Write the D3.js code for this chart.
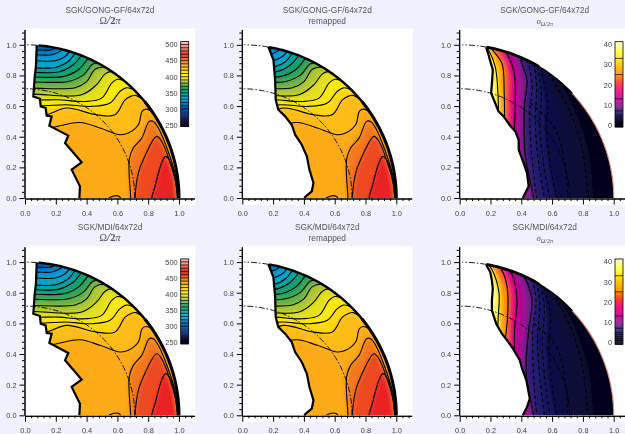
<!DOCTYPE html>
<html><head><meta charset="utf-8">
<script src="https://cdn.jsdelivr.net/npm/d3@7"></script>
<style>
html,body{margin:0;padding:0;background:#f0f0ff;overflow:hidden}
svg{display:block;filter:blur(0.45px)}
text{font-family:"Liberation Sans",Arial,sans-serif}
</style></head><body><svg id="c" width="625" height="434"></svg>
<script>
// ---------- data ----------
const titlesTop=["SGK/GONG-GF/64x72d","SGK/GONG-GF/64x72d","SGK/GONG-GF/64x72d","SGK/MDI/64x72d","SGK/MDI/64x72d","SGK/MDI/64x72d"];
const subtitles=["omega","remapped","sigma","omega","remapped","sigma"];
const axisTicks=[0,0.2,0.4,0.6,0.8,1.0];
const minorTicks=[0.04,0.08,0.12,0.16,0.24,0.28,0.32,0.36,0.44,0.48,0.52,0.56,0.64,0.68,0.72,0.76,0.84,0.88,0.92,0.96,1.04,1.08];
const tachoRadius=0.713, surfaceRadius=1.0;

const omegaTicks=[250,300,350,400,450,500];
const omegaStops=[250,262,280,290,300,310,320,330,340,350,360,370,380,390,400,410,420,430,437,450,460,468,480,490,500,510];
const omegaColors=["#000020","#101040","#203080","#004088","#0058a8","#0064b4","#0090d0","#00a8e0","#00a4b8","#00a080","#10a060","#40a850","#90bc38","#d0d428","#f8ec10","#ffe800","#ffc810","#fdb015","#fba818","#f26a1e","#ee4020","#ea2426","#ee5040","#f88070","#ffa090","#ffcdb8"];
const omegaLines=[300,310,320,330,340,350,360,370,380,390,400,410,420,430,440,450,460,470,480,490,500];
const sigmaTicks=[0,10,20,30,40];
const sigmaStops=[0,1.5,3,4.5,7,9,12,17,21,25,30,36,42];
const sigmaColors=["#000018","#08082e","#14145a","#241c70","#3a2080","#802090","#c00098","#f00080","#ff3030","#ff9000","#ffc800","#ffff40","#fffff0"];
const sigmaLines=[1,2,3,4,5,7,13,25,33];

const omegaLevels=[310,320,330,340,350,360,370,380,390,400,410,420,430];
const omegaContours=[
 [[-.1,.967],[.076,.967],[.162,.967],[.216,.989],[.25,1.02]],
 [[-.1,.935],[.06,.935],[.173,.935],[.227,.957],[.27,.99]],
 [[-.1,.896],[.06,.896],[.195,.896],[.26,.924],[.3,.97]],
 [[-.1,.848],[.06,.848],[.206,.854],[.281,.891],[.33,.955]],
 [[-.1,.82],[.06,.82],[.216,.822],[.314,.87],[.372,.94]],
 [[-.1,.79],[.06,.79],[.249,.793],[.346,.837],[.415,.92]],
 [[-.1,.757],[.05,.757],[.281,.761],[.379,.804],[.44,.875],[.49,.885]],
 [[-.1,.717],[.05,.717],[.325,.72],[.4,.76],[.455,.84],[.52,.855],[.56,.84]],
 [[-.1,.678],[.05,.678],[.368,.674],[.465,.74],[.52,.81],[.56,.825],[.61,.8]],
 [[-.1,.64],[.1,.64],[.216,.641],[.39,.63],[.498,.652],[.563,.75],[.60,.775],[.67,.755]],
 [[-.1,.602],[.125,.602],[.26,.609],[.433,.598],[.552,.62],[.617,.696],[.66,.72],[.73,.695]],
 [[-.1,.5],[.141,.543],[.27,.587],[.465,.543],[.584,.543],[.65,.641],[.69,.665],[.72,.67],[.79,.625]],
 [[-.1,.4],[.206,.467],[.357,.493],[.487,.457],[.617,.413],[.671,.424],[.736,.478],[.76,.565],[.785,.58],[.85,.55]]
];
const coreLevels=[447,458,468];
const coreContours=[
 [[.686,-.05],[.686,0],[.677,.25],[.703,.326],[.758,.391],[.807,.5],[.833,.5],[.866,.457],[.974,.163],[.996,0],[.996,-.05]],
 [[.714,-.05],[.714,0],[.736,.163],[.768,.25],[.855,.402],[.887,.37],[.98,.098],[.99,0],[.99,-.05]],
 [[.823,-.05],[.823,0],[.844,.076],[.887,.228],[.913,.272],[.952,.217],[.99,0],[.99,-.05]]
];
const coreIsland=[[.53,-.01],[.57,.012],[.61,.012],[.625,-.01]];

const innerEdgeFull=[[.076,.997],[.071,.859],[.063,.793],[.054,.663],[.097,.648],[.102,.598],[.134,.587],[.141,.537],[.173,.533],[.158,.472],[.281,.407],[.26,.359],[.368,.233],[.303,.185],[.357,.076],[.353,0]];
const innerEdgeRemap=[[.169,.986],[.202,.902],[.213,.772],[.217,.641],[.234,.576],[.278,.533],[.321,.478],[.343,.413],[.386,.348],[.419,.272],[.436,.185],[.462,.098],[.451,.043],[.408,.007],[.403,0]];
const innerEdgeSigmaGong=[[.172,.983],[.187,.935],[.202,.88],[.215,.837],[.211,.772],[.204,.685],[.23,.62],[.252,.565],[.285,.533],[.328,.472],[.361,.435],[.383,.38],[.383,.315],[.415,.228],[.437,.163],[.448,.076],[.415,.011],[.41,0]];
const innerEdgeSigmaMdi=[[.172,.983],[.198,.935],[.209,.88],[.215,.826],[.209,.75],[.209,.685],[.237,.598],[.274,.533],[.311,.485],[.346,.435],[.39,.359],[.405,.304],[.433,.228],[.455,.109],[.437,.054],[.415,.011],[.41,0]];

const sigmaFillLevels=[1,1.5,2,3,4,5,7,10,13,17,21,25,29,33,37];
const sigmaFillsGong=[
 [[.66,.76],[.76,.55],[.84,.3],[.87,0]],
 [[.6,.8],[.72,.55],[.8,.3],[.83,0]],
 [[.56,.82],[.64,.58],[.69,.3],[.71,0]],
 [[.52,.85],[.55,.65],[.55,.45],[.58,.2],[.62,0]],
 [[.48,.88],[.50,.72],[.49,.5],[.51,.25],[.55,0]],
 [[.44,.9],[.47,.75],[.455,.55],[.47,.25],[.5,0]],
 [[.39,.93],[.404,.876],[.437,.772],[.42,.598],[.42,.38],[.426,.272],[.459,.109],[.48,0]],
 [[.36,.94],[.395,.8],[.395,.6],[.39,.4],[.40,.25],[.43,.1],[.45,0]],
 [[.29,.96],[.311,.935],[.354,.815],[.361,.641],[.354,.413],[.36,.3]],
 [[.27,.97],[.325,.84],[.335,.65],[.335,.44],[.35,.3]],
 [[.24,.98],[.28,.91],[.315,.8],[.31,.66],[.315,.457],[.34,.3]],
 [[.2,.99],[.209,.972],[.274,.88],[.289,.685],[.291,.5],[.295,.3]],
 [[.19,.99],[.21,.93],[.25,.86],[.265,.7],[.27,.5]],
 [[.17,.99],[.187,.967],[.23,.859],[.246,.728],[.252,.554],[.255,.4]],
 [[.16,.99],[.19,.93],[.22,.8],[.225,.7],[.235,.55]]
];
const sigmaFillsMdi=[
 [[.66,.76],[.76,.55],[.84,.3],[.87,0]],
 [[.6,.8],[.72,.55],[.8,.3],[.83,0]],
 [[.56,.82],[.64,.58],[.69,.3],[.71,0]],
 [[.53,.85],[.57,.65],[.56,.45],[.58,.2],[.62,0]],
 [[.5,.87],[.52,.72],[.505,.5],[.52,.25],[.55,0]],
 [[.47,.89],[.495,.75],[.475,.55],[.48,.25],[.5,0]],
 [[.41,.92],[.437,.87],[.47,.75],[.448,.554],[.433,.38],[.433,.25],[.459,.109],[.48,0]],
 [[.38,.93],[.42,.8],[.42,.6],[.405,.4],[.41,.25],[.43,.1],[.45,0]],
 [[.3,.96],[.34,.92],[.372,.75],[.357,.576],[.354,.413],[.36,.3]],
 [[.28,.97],[.335,.84],[.345,.65],[.335,.44],[.35,.3]],
 [[.25,.98],[.295,.9],[.325,.78],[.32,.62],[.32,.44],[.34,.3]],
 [[.21,.99],[.25,.93],[.295,.82],[.3,.62],[.297,.5],[.3,.3]],
 [[.2,.99],[.225,.93],[.265,.8],[.27,.62],[.275,.5]],
 [[.18,.99],[.21,.95],[.255,.8],[.25,.64],[.252,.54],[.26,.4]],
 [[.17,.99],[.2,.93],[.24,.8],[.232,.66],[.24,.55]]
];
const sigmaSolidGong=[
 [[.39,.93],[.404,.876],[.437,.772],[.42,.598],[.42,.38],[.426,.272],[.459,.109],[.48,0]],
 [[.29,.96],[.311,.935],[.354,.815],[.361,.641],[.354,.413]],
 [[.2,.99],[.209,.972],[.274,.88],[.289,.685],[.291,.5]],
 [[.17,.99],[.187,.967],[.23,.859],[.246,.728],[.252,.554]]
];
const sigmaSolidMdi=[
 [[.41,.92],[.437,.87],[.47,.75],[.448,.554],[.433,.38],[.433,.25],[.459,.109],[.48,0]],
 [[.3,.96],[.34,.92],[.372,.75],[.357,.576],[.354,.413]],
 [[.25,.98],[.285,.924],[.311,.815],[.311,.641],[.296,.5]],
 [[.18,.99],[.21,.95],[.255,.8],[.25,.64],[.246,.543]]
];
const sigmaDashedGong=[
 [[.44,.9],[.47,.75],[.455,.55],[.47,.25],[.5,0]],
 [[.48,.88],[.50,.72],[.49,.5],[.51,.25],[.55,0]],
 [[.505,.86],[.53,.7],[.52,.48],[.545,.22],[.585,0]],
 [[.52,.85],[.57,.65],[.565,.45],[.59,.2],[.63,0]],
 [[.46,.62],[.611,.467],[.676,.272],[.70,0]],
 [[.6,.78],[.72,.55],[.8,.3],[.83,0]]
];
const sigmaDashedMdi=[
 [[.47,.89],[.495,.75],[.475,.55],[.48,.25],[.5,0]],
 [[.5,.87],[.52,.72],[.505,.5],[.52,.25],[.55,0]],
 [[.525,.85],[.55,.7],[.535,.48],[.555,.22],[.585,0]],
 [[.55,.83],[.59,.65],[.58,.45],[.6,.2],[.63,0]],
 [[.48,.6],[.62,.46],[.68,.27],[.70,0]],
 [[.62,.77],[.73,.55],[.8,.3],[.83,0]]
];

// ---------- layout ----------
const panelX=[25,242.3,459.7];
const rowY=[198,415.3];
const unitX=154, unitY=153.2;
const svg=d3.select("#c");
const defs=svg.append("defs");
const blur=defs.append("filter").attr("id","soft").attr("filterUnits","userSpaceOnUse").attr("x",0).attr("y",0).attr("width",625).attr("height",434);
blur.append("feGaussianBlur").attr("stdDeviation",2.4);

const omegaColor=d3.scaleLinear().domain(omegaStops).range(omegaColors).clamp(true);
const sigmaColor=d3.scaleLinear().domain(sigmaStops).range(sigmaColors).clamp(true);

function drawPanel(idx){
  const col=idx%3,row=Math.floor(idx/3);
  const x=d3.scaleLinear().domain([0,1.1]).range([panelX[col],panelX[col]+unitX*1.1]);
  const y=d3.scaleLinear().domain([0,1.1]).range([rowY[row],rowY[row]-unitY*1.1]);
  const g=svg.append("g");
  const right=col===2?625:x(1.1)+1;
  g.append("rect").attr("x",x(0)).attr("y",y(1.1)-1).attr("width",right-x(0)).attr("height",y(0)-y(1.1)+8).attr("fill","#fff");

  const line=d3.line().x(d=>x(d[0])).y(d=>y(d[1])).curve(d3.curveCatmullRom.alpha(.5));
  const straight=d3.line().x(d=>x(d[0])).y(d=>y(d[1]));
  const inner=col===0?innerEdgeFull:col===1?innerEdgeRemap:(row===0?innerEdgeSigmaGong:innerEdgeSigmaMdi);
  const topLat=Math.atan2(inner[0][1],inner[0][0])*180/Math.PI;
  const polar=(r,l)=>[r*Math.cos(l*Math.PI/180),r*Math.sin(l*Math.PI/180)];
  const arcPts=d3.range(0,topLat,1).map(l=>polar(surfaceRadius,l));
  const clipId="clip"+idx;
  defs.append("clipPath").attr("id",clipId).append("path").attr("d",straight([...arcPts,...inner])+"Z");

  const clipped=g.append("g").attr("clip-path",`url(#${clipId})`);
  const soft=clipped.append("g").attr("filter","url(#soft)");
  if(col<2){
    soft.append("rect").attr("x",x(-.2)).attr("y",y(1.3)).attr("width",x(1.4)-x(-.2)).attr("height",y(-.2)-y(1.3)).attr("fill",omegaColor(303));
    omegaContours.forEach((c,i)=>{
      const a=c[0],b=c[c.length-1];
      const d=line(c)+"L"+[[1.4,b[1]],[1.4,-.3],[a[0],-.3]].map(p=>x(p[0])+","+y(p[1])).join("L")+"Z";
      soft.append("path").attr("d",d).attr("fill",omegaColor(omegaLevels[i]+5));
    });
    coreContours.forEach((c,i)=>{
      soft.append("path").attr("d",line(c)+"L"+x(1.2)+","+y(-.05)+"L"+x(1.2)+","+y(-.3)+"L"+x(c[0][0])+","+y(-.3)+"Z").attr("fill",omegaColor(coreLevels[i]));
    });
    [...omegaContours,...coreContours,coreIsland].forEach(c=>{
      clipped.append("path").attr("d",line(c)).attr("fill","none").attr("stroke","#000").attr("stroke-width",1.1);
    });
  } else {
    const fills=row===0?sigmaFillsGong:sigmaFillsMdi;
    soft.append("rect").attr("x",x(-.2)).attr("y",y(1.3)).attr("width",x(1.4)-x(-.2)).attr("height",y(-.2)-y(1.3)).attr("fill",sigmaColor(.3));
    fills.forEach((c,i)=>{
      const a=c[0],b=c[c.length-1];
      const d=line(c)+"L"+[[b[0],-.3],[-.3,-.3],[-.3,1.3],[a[0],1.3]].map(p=>x(p[0])+","+y(p[1])).join("L")+"Z";
      soft.append("path").attr("d",d).attr("fill",sigmaColor(sigmaFillLevels[i]+(sigmaFillLevels[i]>=7?1.5:.3)));
    });
    (row===0?sigmaSolidGong:sigmaSolidMdi).forEach(c=>clipped.append("path").attr("d",line(c)).attr("fill","none").attr("stroke","#000").attr("stroke-width",1.1));
    (row===0?sigmaDashedGong:sigmaDashedMdi).forEach(c=>clipped.append("path").attr("d",line(c)).attr("fill","none").attr("stroke","#000").attr("stroke-width",1.1).attr("stroke-dasharray","3.5 3"));
  }
  // domain outline
  if(col<2){
    g.append("path").attr("d",straight(arcPts.filter(p=>p[1]<.64))).attr("fill","none").attr("stroke","#000").attr("stroke-width",3);
    g.append("path").attr("d",straight(arcPts.filter(p=>p[1]>=.58))).attr("fill","none").attr("stroke","#000").attr("stroke-width",2.4);
    g.append("path").attr("d",straight(inner)).attr("fill","none").attr("stroke","#000").attr("stroke-width",2.2);
  } else {
    const lat=p=>Math.atan2(p[1],p[0])*180/Math.PI;
    g.append("path").attr("d",straight(arcPts.filter(p=>lat(p)<44))).attr("fill","none").attr("stroke","#e88a78").attr("stroke-width",1.1);
    g.append("path").attr("d",straight(arcPts.filter(p=>lat(p)>=43&&lat(p)<60))).attr("fill","none").attr("stroke","#000").attr("stroke-width",1.6);
    g.append("path").attr("d",straight(arcPts.filter(p=>lat(p)>=59))).attr("fill","none").attr("stroke","#000").attr("stroke-width",2.8);
    g.append("path").attr("d",straight(inner)).attr("fill","none").attr("stroke","#000").attr("stroke-width",2.2);
  }
  // tachocline & surface reference arcs
  const dash="6 2 1.5 2";
  const arc=(r,lo,hi)=>straight(d3.range(lo,hi+.01,1).map(l=>polar(r,l)));
  g.append("path").attr("d",arc(tachoRadius,0,90)).attr("fill","none").attr("stroke","#000").attr("stroke-width",.9).attr("stroke-dasharray",dash);
  g.append("path").attr("d",arc(surfaceRadius,topLat,90)).attr("fill","none").attr("stroke","#000").attr("stroke-width",.9).attr("stroke-dasharray",dash);

  // axes
  const style=a=>{a.selectAll("text").attr("font-size",7.4).attr("fill","#444");a.selectAll("path,line").attr("stroke","#000");};
  const xa=g.append("g").attr("transform",`translate(0,${y(0)+.5})`).call(d3.axisBottom(x).tickValues(axisTicks).tickSize(6).tickSizeOuter(0).tickFormat(d3.format(".1f")).tickPadding(6));
  style(xa);
  const xm=g.append("g").attr("transform",`translate(0,${y(0)+.5})`).call(d3.axisBottom(x).tickValues(minorTicks).tickSize(2.5).tickSizeOuter(0).tickFormat(""));
  style(xm);
  const ya=g.append("g").attr("transform",`translate(${x(0)-.5},0)`).call(d3.axisLeft(y).tickValues(axisTicks).tickSize(5).tickSizeOuter(0).tickFormat(d3.format(".1f")).tickPadding(3));
  style(ya);
  const ym=g.append("g").attr("transform",`translate(${x(0)-.5},0)`).call(d3.axisLeft(y).tickValues(minorTicks).tickSize(2.5).tickSizeOuter(0).tickFormat(""));
  style(ym);

  // titles
  const cx=x(0)+85;
  g.append("text").attr("x",cx).attr("y",y(0)-185).attr("text-anchor","middle").attr("font-size",8.3).attr("fill","#555").text(titlesTop[idx]);
  const sub=g.append("text").attr("x",cx).attr("y",y(0)-174).attr("text-anchor","middle").attr("fill","#555");
  if(subtitles[idx]==="remapped"){sub.attr("font-size",8.3).text("remapped");}
  else if(subtitles[idx]==="omega"){
    sub.append("tspan").attr("font-family","Liberation Serif").attr("font-size",10).text("Ω");
    sub.append("tspan").attr("font-family","Liberation Serif").attr("font-size",11.5).attr("font-weight","bold").attr("font-style","italic").text("/");
    sub.append("tspan").attr("font-family","Liberation Serif").attr("font-size",10.5).attr("font-weight","bold").text("2");
    sub.append("tspan").attr("font-family","Liberation Serif").attr("font-size",10).attr("font-style","italic").text("π");
  } else {
    sub.append("tspan").attr("font-family","Liberation Serif").attr("font-size",9).attr("font-style","italic").text("σ");
    sub.append("tspan").attr("font-family","Liberation Serif").attr("font-size",6).attr("dy",2).text("Ω/2π");
  }

  // colour bars
  if(col!==1){
    const isOmega=col===0;
    const bx=isOmega?x(0)+155.7:x(0)+155.3;
    const bw=8;
    const off=row===0?0:217.3;
    const bar=isOmega?d3.scaleLinear().domain([250,500]).range([125+off,44.5+off]):d3.scaleLinear().domain([0,40]).range([125+off,44.3+off]);
    const lo=isOmega?245:-1,hi=isOmega?509:41.3;
    const colorFn=isOmega?omegaColor:sigmaColor;
    const step=(hi-lo)/86;
    d3.range(lo,hi,step).forEach(v=>{
      g.append("rect").attr("x",bx).attr("y",bar(v+step)).attr("width",bw).attr("height",Math.abs(bar(v)-bar(v+step))+.3).attr("fill",colorFn(v));
    });
    (isOmega?omegaLines:sigmaLines).forEach(v=>g.append("line").attr("x1",bx).attr("x2",bx+bw).attr("y1",bar(v)).attr("y2",bar(v)).attr("stroke","#000").attr("stroke-width",.7));
    g.append("rect").attr("x",bx).attr("y",bar(hi)).attr("width",bw).attr("height",bar(lo)-bar(hi)).attr("fill","none").attr("stroke","#000").attr("stroke-width",.8);
    const ba=g.append("g").attr("transform",`translate(${bx},0)`).call(d3.axisLeft(bar).tickValues(isOmega?omegaTicks:sigmaTicks).tickSize(0).tickPadding(3));
    ba.select(".domain").remove();
    ba.selectAll("text").attr("font-size",7.4).attr("fill","#444");
  }
}
d3.range(6).forEach(drawPanel);
</script></body></html>
